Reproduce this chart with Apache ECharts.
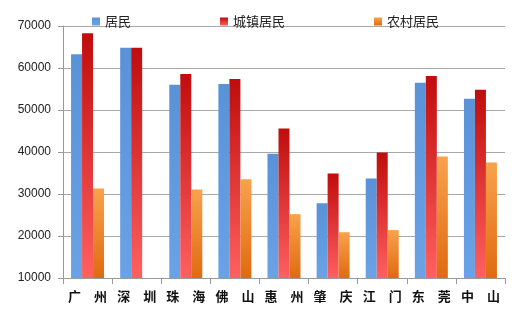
<!DOCTYPE html>
<html><head><meta charset="utf-8">
<script src="https://cdn.jsdelivr.net/npm/echarts@6/dist/echarts.min.js"></script>
<style>html,body{margin:0;padding:0;background:#fff}#c{width:527px;height:325px}</style>
</head><body><div id="c"></div>
<script>
const categories = ['广　州','深　圳','珠　海','佛　山','惠　州','肇　庆','江　门','东　莞','中　山'];
const seriesNames = ['居民','城镇居民','农村居民'];
const residents = [63300, 64800, 56000, 56200, 39600, 27800, 33700, 56500, 52700];
const urban = [68300, 64800, 58600, 57400, 45600, 34900, 39900, 58100, 54800];
const rural = [31300, null, 31100, 33500, 25200, 20900, 21400, 38900, 37500];
const yTicks = {min: 10000, max: 70000, interval: 10000};

const chart = echarts.init(document.getElementById('c'));
const grad = (top, bottom) => new echarts.graphic.LinearGradient(0,0,0,1,[{offset:0,color:top},{offset:1,color:bottom}]);
chart.setOption({
  animation: false,
  legend: {
    top: 10, left: 87, itemGap: 89, itemWidth: 8, itemHeight: 8, icon: 'rect',
    textStyle: {fontSize: 13, color: '#222', fontFamily: 'Noto Sans CJK SC'},
    data: seriesNames
  },
  grid: {left: 63, right: 22, top: 26, bottom: 47},
  xAxis: {
    type: 'category', data: categories,
    axisLine: {lineStyle: {color: '#999'}},
    axisTick: {show: true, length: 6, lineStyle: {color: '#999'}},
    axisLabel: {fontSize: 13, fontWeight: 'bold', color: '#111', margin: 12, fontFamily: 'Noto Sans CJK SC', interval: 0}
  },
  yAxis: {
    type: 'value', min: yTicks.min, max: yTicks.max, interval: yTicks.interval,
    axisLine: {show: true, lineStyle: {color: '#999'}},
    axisTick: {show: true, length: 5, lineStyle: {color: '#999'}},
    axisLabel: {fontSize: 12, color: '#222', margin: 12, fontFamily: 'Liberation Sans', formatter: v => String(v)},
    splitLine: {lineStyle: {color: '#a8a8a8'}}
  },
  series: [
    {name: seriesNames[0], type: 'bar', data: residents, barWidth: 11, barGap: '0%',
     itemStyle: {color: grad('#5a92d8', '#6aa2e6')}},
    {name: seriesNames[1], type: 'bar', data: urban, barWidth: 11,
     itemStyle: {color: grad('#c00c0c', '#ff6060')}},
    {name: seriesNames[2], type: 'bar', data: rural, barWidth: 11,
     itemStyle: {color: grad('#f8a24c', '#e06a10')}}
  ]
});
</script></body></html>
